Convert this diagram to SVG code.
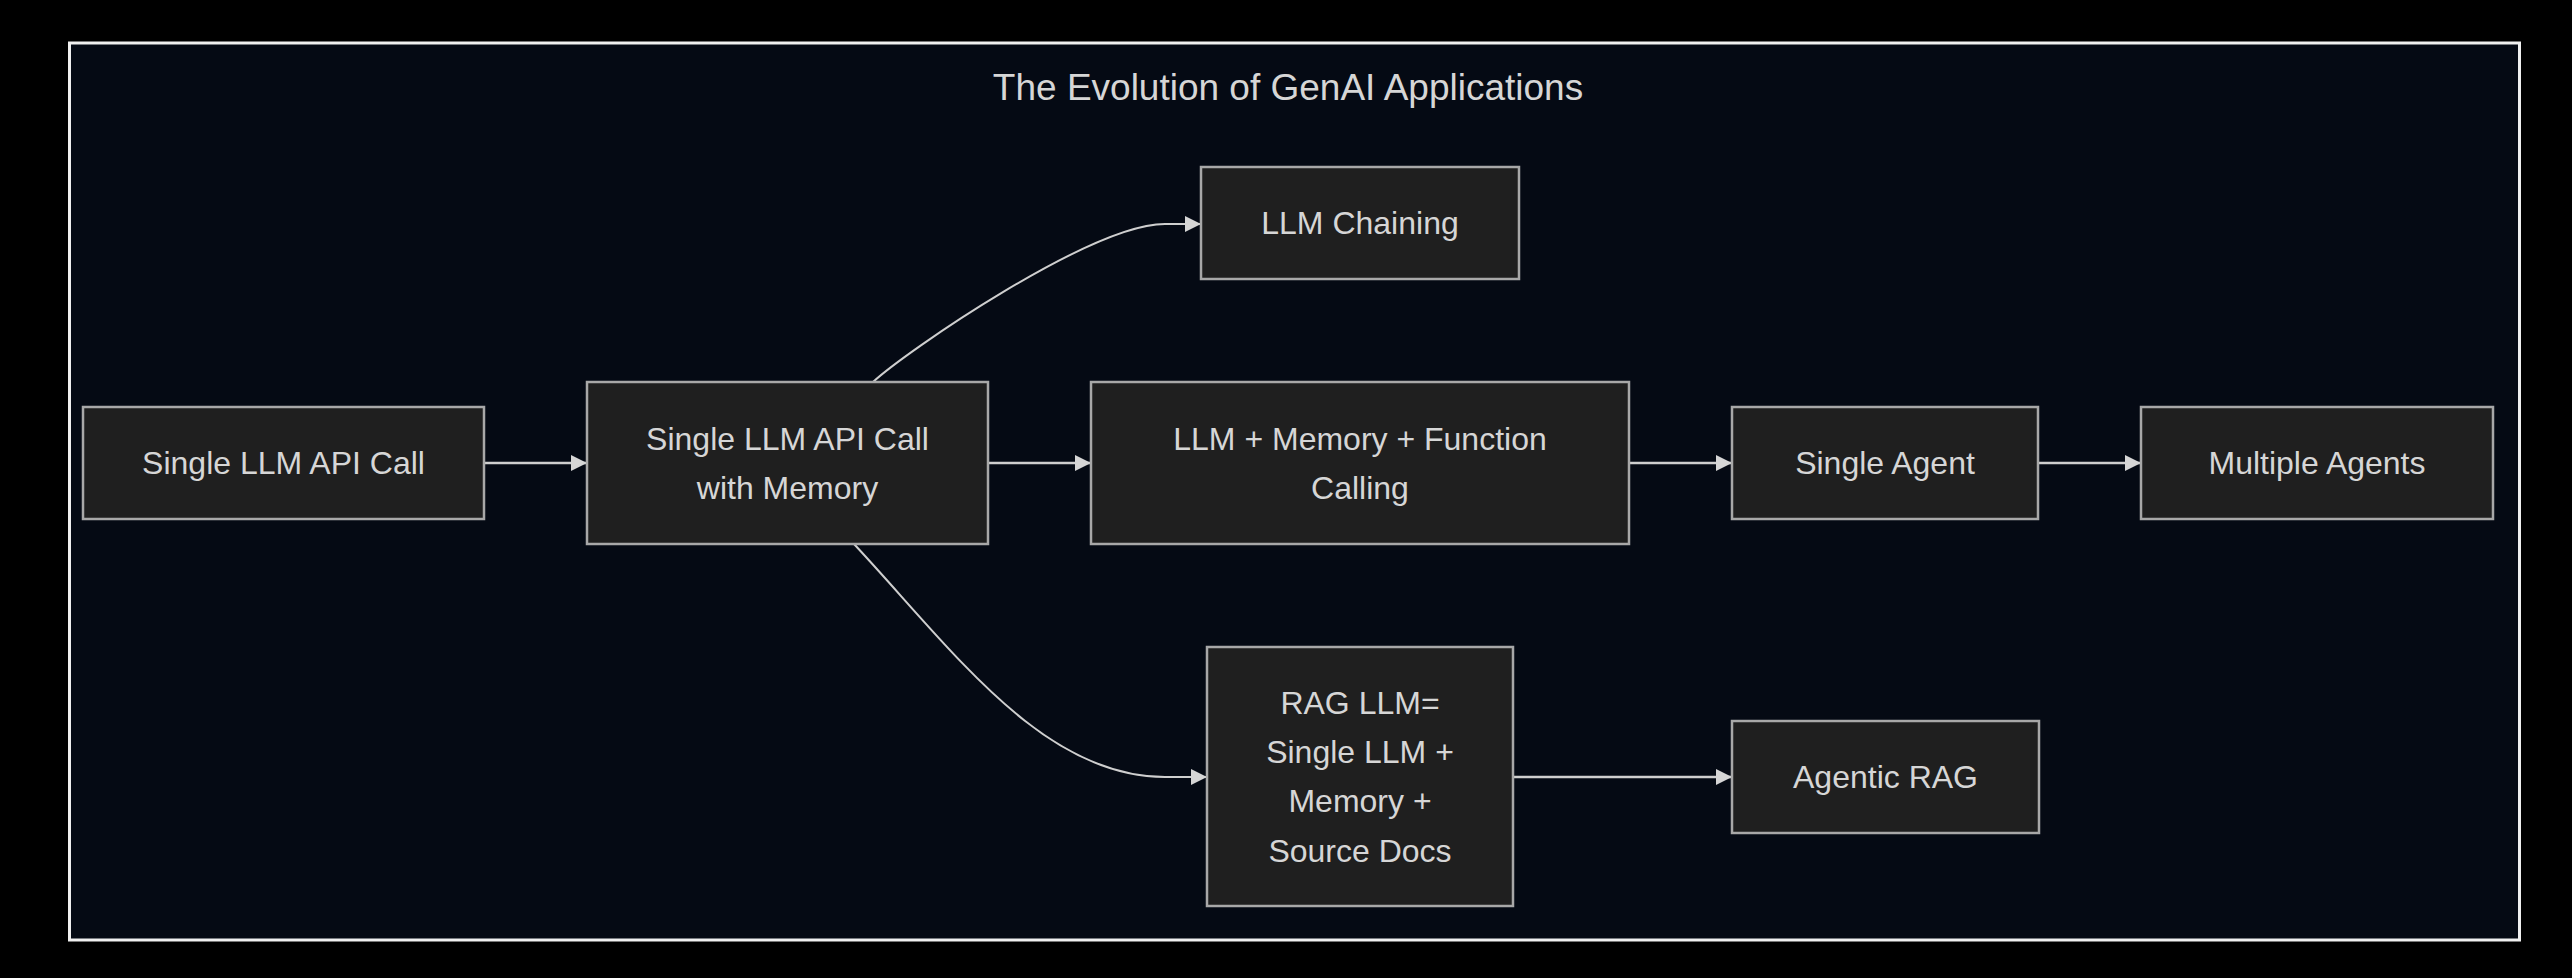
<svg xmlns="http://www.w3.org/2000/svg" width="2572" height="978" viewBox="0 0 2572 978">
<style>
.node rect{fill:#1f1f1f;stroke:#a8a8a8;stroke-width:2.5}
.node text,.title{font-family:"Liberation Sans",Arial,sans-serif;fill:#d6d6d6;text-anchor:middle;dominant-baseline:central}
.node text{font-size:32px}
.title{font-size:37px}
.edge{fill:none;stroke:#cfcfcf;stroke-width:2.5}
.curve{stroke-width:2}
</style>
<defs>
<marker id="arrow" viewBox="0 0 10 10" refX="10" refY="5" markerWidth="16" markerHeight="16" markerUnits="userSpaceOnUse" orient="auto">
<path d="M0,0 L10,5 L0,10 z" fill="#d6d6d6"/>
</marker>
</defs>
<rect x="0" y="0" width="2572" height="978" fill="#000"/>
<rect x="69.5" y="43" width="2450" height="897" fill="#050a14" stroke="#f0f0f0" stroke-width="3"/>
<text class="title" x="1288" y="87">The Evolution of GenAI Applications</text>
<g id="edges">
<path class="edge" d="M484,463 L587,463" marker-end="url(#arrow)"/>
<path class="edge" d="M988,463 L1091,463" marker-end="url(#arrow)"/>
<path class="edge" d="M1629,463 L1732,463" marker-end="url(#arrow)"/>
<path class="edge" d="M2038,463 L2141,463" marker-end="url(#arrow)"/>
<path class="edge" d="M1513,777 L1732,777" marker-end="url(#arrow)"/>
<path class="edge curve" d="M873,382 C904,353 1091,224 1165,224 L1201,224" marker-end="url(#arrow)"/>
<path class="edge curve" d="M854,544 C952,649 1042,777 1165,777 L1207,777" marker-end="url(#arrow)"/>
</g>
<g id="n1" class="node"><rect x="83" y="407" width="401" height="112"/><text x="283.5" y="463">Single LLM API Call</text></g>
<g id="n2" class="node"><rect x="587" y="382" width="401" height="162"/><text x="787.5" y="439">Single LLM API Call</text><text x="787.5" y="488">with Memory</text></g>
<g id="n3" class="node"><rect x="1201" y="167" width="318" height="112"/><text x="1360" y="223">LLM Chaining</text></g>
<g id="n4" class="node"><rect x="1091" y="382" width="538" height="162"/><text x="1360" y="439">LLM + Memory + Function</text><text x="1360" y="488">Calling</text></g>
<g id="n5" class="node"><rect x="1732" y="407" width="306" height="112"/><text x="1885" y="463">Single Agent</text></g>
<g id="n6" class="node"><rect x="2141" y="407" width="352" height="112"/><text x="2317" y="463">Multiple Agents</text></g>
<g id="n7" class="node"><rect x="1207" y="647" width="306" height="259"/><text x="1360" y="703">RAG LLM=</text><text x="1360" y="752">Single LLM +</text><text x="1360" y="801">Memory +</text><text x="1360" y="851">Source Docs</text></g>
<g id="n8" class="node"><rect x="1732" y="721" width="307" height="112"/><text x="1885.5" y="777">Agentic RAG</text></g>
</svg>
